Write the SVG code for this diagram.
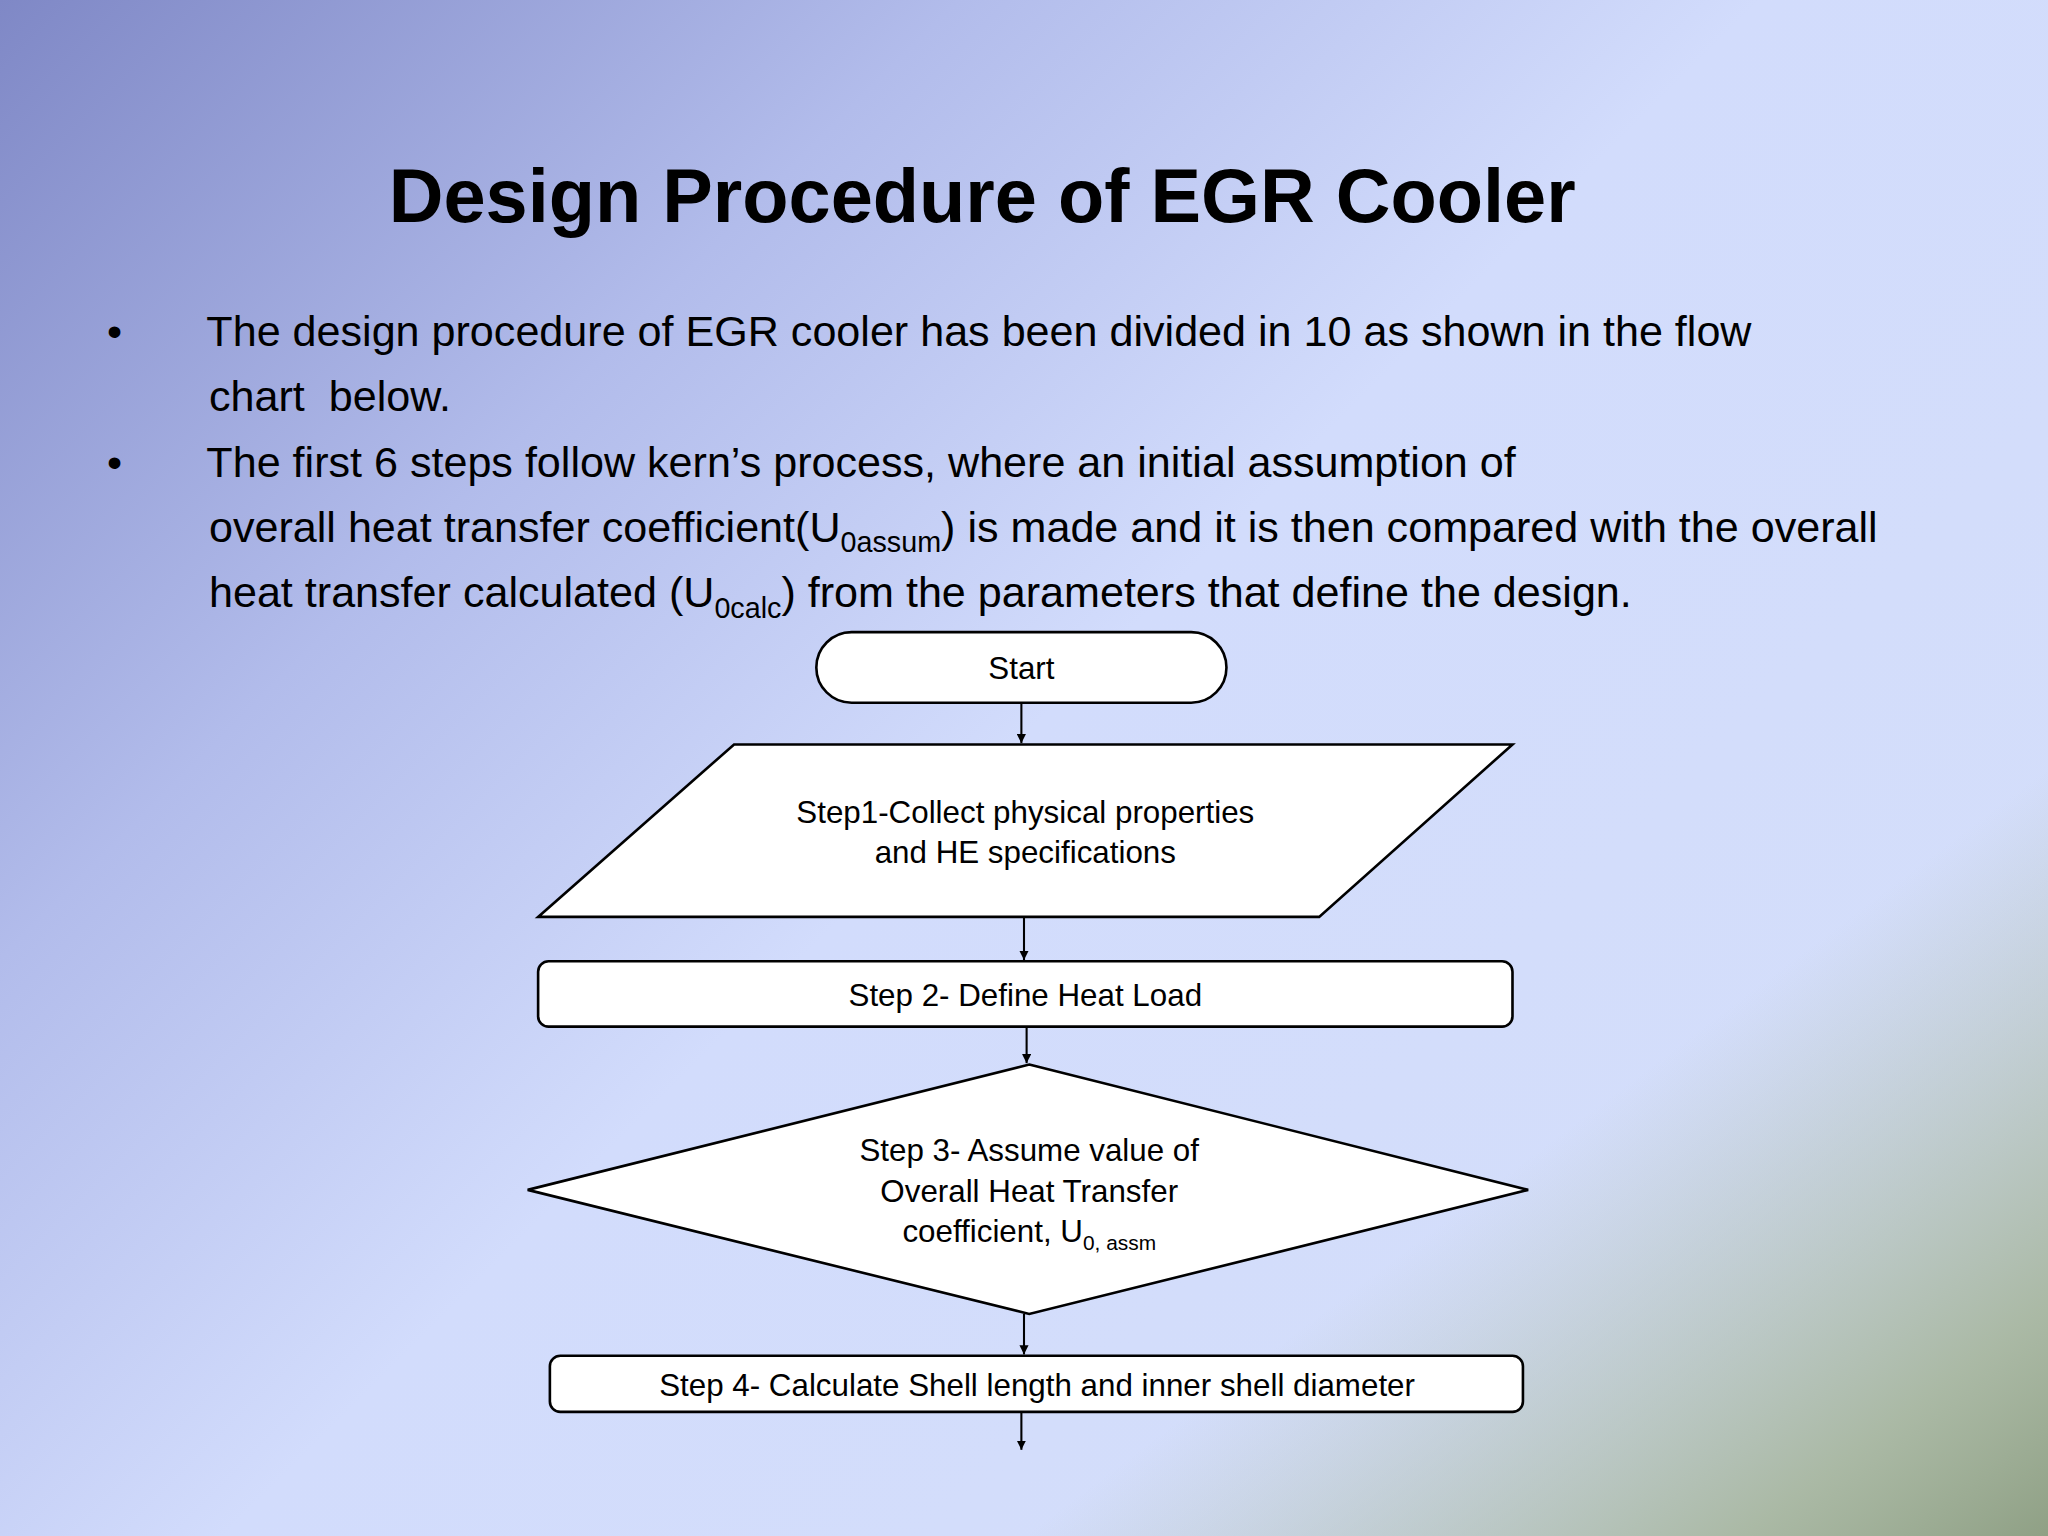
<svg xmlns="http://www.w3.org/2000/svg" width="2048" height="1536" viewBox="0 0 2048 1536">
<defs>
<linearGradient id="bg" x1="0" y1="0" x2="1" y2="0.75">
<stop offset="0" stop-color="#7f88c6"/>
<stop offset="0.3" stop-color="#b2bceb"/>
<stop offset="0.55" stop-color="#d2dcfc"/>
<stop offset="1" stop-color="#d4defa"/>
</linearGradient>
<linearGradient id="corner" x1="0.75" y1="0.75" x2="1" y2="1">
<stop offset="0" stop-color="#a8b898" stop-opacity="0"/>
<stop offset="0.7" stop-color="#a0b090" stop-opacity="0.8"/>
<stop offset="1" stop-color="#8fa085" stop-opacity="1"/>
</linearGradient>
<marker id="ah" viewBox="0 0 10 10" refX="10" refY="5" markerWidth="7" markerHeight="7" orient="auto" markerUnits="userSpaceOnUse">
<path d="M0,0 L10,5 L0,10 z" fill="#000"/>
</marker>
<style>
.t{font-family:"Liberation Sans",Arial,sans-serif;fill:#000}
.b{font-size:33px}
.n{font-size:24px;text-anchor:middle}
.s{fill:#fff;stroke:#000;stroke-width:2}
.c{stroke:#000;stroke-width:1.6;fill:none}
</style>
</defs>
<rect width="2048" height="1536" fill="url(#bg)"/>
<rect width="2048" height="1536" fill="url(#corner)"/>
<g transform="scale(1.30612)">
<text class="t" x="752" y="170" font-size="58" font-weight="bold" text-anchor="middle">Design Procedure of EGR Cooler</text>
<text class="t b" x="82" y="265">•</text>
<text class="t b" x="158" y="265">The design procedure of EGR cooler has been divided in 10 as shown in the flow</text>
<text class="t b" x="160" y="315" xml:space="preserve">chart  below.</text>
<text class="t b" x="82" y="365">•</text>
<text class="t b" x="158" y="365">The first 6 steps follow kern’s process, where an initial assumption of</text>
<text class="t b" x="160" y="415">overall heat transfer coefficient(U<tspan font-size="22" dy="8">0assum</tspan><tspan dy="-8">) is made and it is then compared with the overall</tspan></text>
<text class="t b" x="160" y="465">heat transfer calculated (U<tspan font-size="22" dy="8">0calc</tspan><tspan dy="-8">) from the parameters that define the design.</tspan></text>
<g id="connectors">
<line class="c" x1="782" y1="538" x2="782" y2="569" marker-end="url(#ah)"/>
<line class="c" x1="784" y1="702" x2="784" y2="735" marker-end="url(#ah)"/>
<line class="c" x1="786" y1="786" x2="786" y2="814" marker-end="url(#ah)"/>
<line class="c" x1="784" y1="1006" x2="784" y2="1037" marker-end="url(#ah)"/>
<line class="c" x1="782" y1="1081" x2="782" y2="1110" marker-end="url(#ah)"/>
</g>
<g id="start"><rect class="s" x="625" y="484" width="314" height="54" rx="27"/><text class="t n" x="782" y="520">Start</text></g>
<g id="step1"><polygon class="s" points="562,570 1158,570 1010,702 412,702"/>
<text class="t n" x="785" y="630">Step1-Collect physical properties</text>
<text class="t n" x="785" y="661">and HE specifications</text></g>
<g id="step2"><rect class="s" x="412" y="736" width="746" height="50" rx="8"/><text class="t n" x="785" y="770">Step 2- Define Heat Load</text></g>
<g id="step3"><polygon class="s" points="788,815 1170,911 788,1006 404,911"/>
<text class="t n" x="788" y="889">Step 3- Assume value of</text>
<text class="t n" x="788" y="920">Overall Heat Transfer</text>
<text class="t n" x="788" y="951">coefficient, U<tspan font-size="16" dy="6">0, assm</tspan></text></g>
<g id="step4"><rect class="s" x="421" y="1038" width="745" height="43" rx="8"/><text class="t n" x="794" y="1069">Step 4- Calculate Shell length and inner shell diameter</text></g>
</g>
</svg>
